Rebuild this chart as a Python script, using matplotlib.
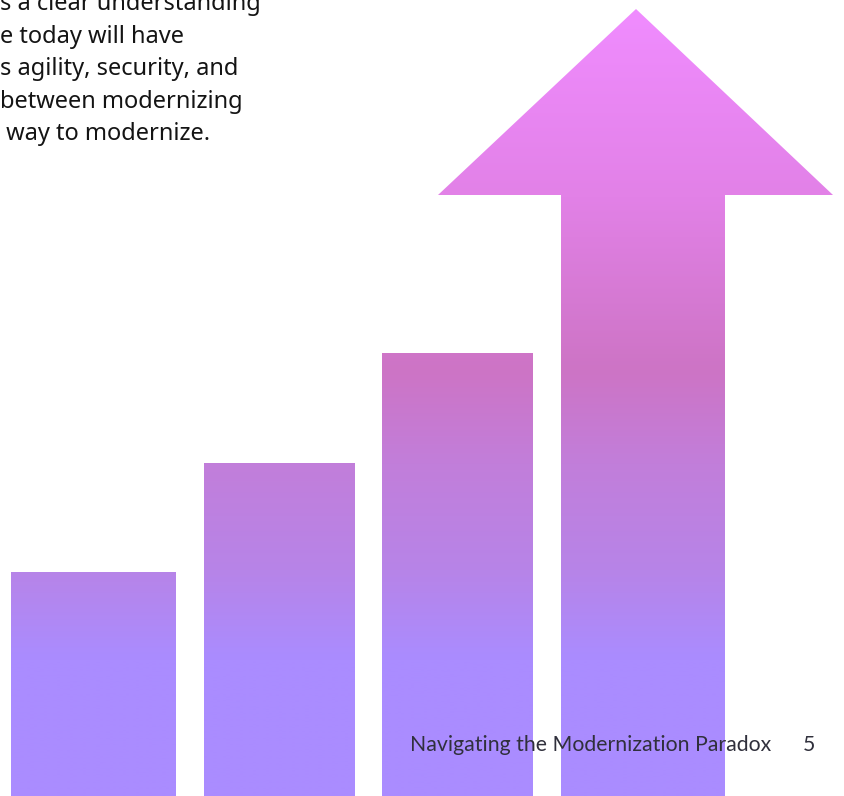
import numpy as np
import matplotlib
matplotlib.use("Agg")
import matplotlib.pyplot as plt
from matplotlib.colors import LinearSegmentedColormap
from matplotlib.patches import Rectangle, Polygon

# bar heights (measured from the bottom edge, in page pixels)
bar_heights = [224, 333, 443]
bar_lefts = [11, 204, 382]
bar_widths = [165, 151, 151]
arrow_shaft_height = 601
arrow_tip_height = 787

body_lines = [
    "s a clear understanding",
    "e today will have",
    "s agility, security, and",
    "between modernizing",
    " way to modernize.",
]
footer_text = "Navigating the Modernization Paradox"
page_number = "5"

W, H = 845, 796

# vertical gradient stops: (height, colour)
grad_stops = [
    (0, "#AA8CFF"), (136, "#AA8CFF"), (224, "#B784E8"), (333, "#C27EDA"),
    (426, "#CD74C5"), (601, "#E281E7"), (787, "#F08CFF"), (796, "#F08CFF"),
]
cmap = LinearSegmentedColormap.from_list(
    "grad", [(h / H, c) for h, c in grad_stops])

fig = plt.figure(figsize=(W / 100, H / 100), dpi=100)
ax = fig.add_axes([0, 0, 1, 1])
ax.set_xlim(0, W)
ax.set_ylim(0, H)
ax.axis("off")

grad = np.linspace(0, 1, 400).reshape(-1, 1)


def gradient_fill(patch):
    patch.set_facecolor("none")
    patch.set_edgecolor("none")
    ax.add_patch(patch)
    im = ax.imshow(grad, cmap=cmap, origin="lower", aspect="auto",
                   extent=(0, W, 0, H), interpolation="bilinear")
    im.set_clip_path(patch)


for left, width, height in zip(bar_lefts, bar_widths, bar_heights):
    gradient_fill(Rectangle((left, 0), width, height))

shaft_l, shaft_r = 561, 725
head_l, head_r, tip_x = 438, 833, 636
arrow = Polygon([
    (shaft_l, 0), (shaft_r, 0), (shaft_r, arrow_shaft_height),
    (head_r, arrow_shaft_height), (tip_x, arrow_tip_height),
    (head_l, arrow_shaft_height), (shaft_l, arrow_shaft_height),
], closed=True)
gradient_fill(arrow)

ax.set_xlim(0, W)
ax.set_ylim(0, H)

# paragraph text cut off at the left edge
baselines = [10, 43, 75, 108, 140]
for line, base in zip(body_lines, baselines):
    ax.text(0, H - base, line, fontsize=17, family="Noto Sans",
            color="#141414", ha="left", va="baseline")

ax.text(410, H - 751, footer_text, fontsize=15.3, family="Lato",
        color="#30303c", ha="left", va="baseline")
ax.text(815, H - 751, page_number, fontsize=15.3, family="Lato",
        color="#30303c", ha="right", va="baseline")

fig.savefig("out.png", dpi=100)
